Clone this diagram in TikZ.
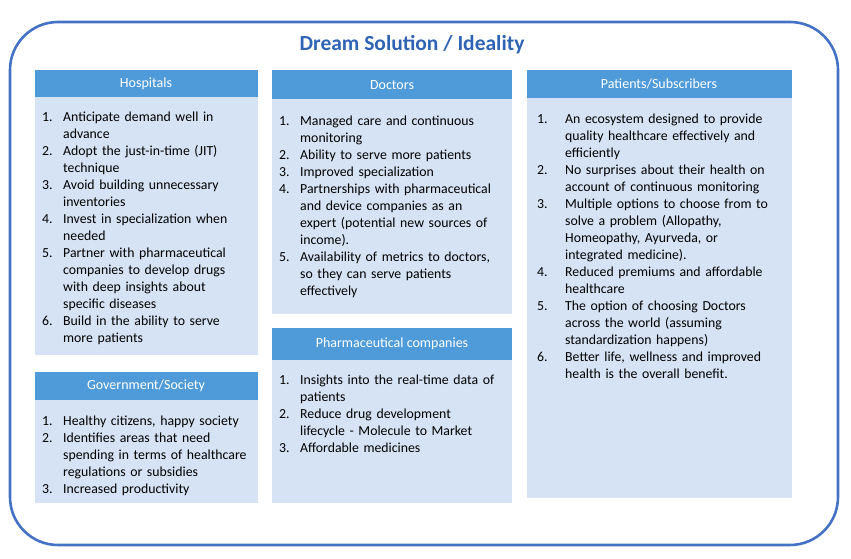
\documentclass[tikz,border=0pt]{standalone}
\usepackage{fontspec}
\setmainfont{Carlito}
\definecolor{hdr}{HTML}{4F9BD9}
\definecolor{bdy}{HTML}{D6E3F4}
\definecolor{outer}{HTML}{4472C4}
\definecolor{ttl}{HTML}{2F64B5}
\newcommand{\itm}[3]{\par\hangindent=#1\hangafter=1\noindent\makebox[#1][l]{#2}#3\par}
\newcommand{\nl}{\newline}
\begin{document}
\begin{tikzpicture}[x=1pt,y=-1pt,
  hdrbox/.style={fill=hdr,draw=none},
  bdybox/.style={fill=bdy,draw=none},
  hdrtxt/.style={text=white,font=\fontsize{14}{16}\selectfont},
  lst/.style={anchor=north west,inner sep=0pt,font=\fontsize{13.8}{17}\selectfont}]
\useasboundingbox (0,0) rectangle (851,559);
\draw[outer,line width=2.6pt,rounded corners=48pt] (10,22) rectangle (838,545);
\node (title) at (412,45) {\fontsize{21.5}{24}\selectfont\bfseries\color{ttl}Dream Solution / Ideality};
% Hospitals
\fill[bdybox] (35,97) rectangle (258,355);
\fill[hdrbox] (35,70) rectangle (258,97);
\node[hdrtxt] (hosp) at (146,84) {Hospitals};
\node[lst,text width=222pt] (hospl) at (42,104) {\raggedright
\itm{21pt}{1.}{Anticipate demand well in\nl advance}
\itm{21pt}{2.}{Adopt the just-in-time (JIT)\nl technique}
\itm{21pt}{3.}{Avoid building unnecessary\nl inventories}
\itm{21pt}{4.}{Invest in specialization when\nl needed}
\itm{21pt}{5.}{Partner with pharmaceutical\nl companies to develop drugs\nl with deep insights about\nl specific diseases}
\itm{21pt}{6.}{Build in the ability to serve\nl more patients}};
% Government
\fill[bdybox] (35,400) rectangle (258,503);
\fill[hdrbox] (35,372) rectangle (258,400);
\node[hdrtxt] (gov) at (146,386) {Government/Society};
\node[lst,text width=222pt] (govl) at (42,408) {\raggedright
\itm{21pt}{1.}{Healthy citizens, happy society}
\itm{21pt}{2.}{Identifies areas that need\nl spending in terms of healthcare\nl regulations or subsidies}
\itm{21pt}{3.}{Increased productivity}};
% Doctors
\fill[bdybox] (272,99) rectangle (512,314);
\fill[hdrbox] (272,70) rectangle (512,99);
\node[hdrtxt] (doc) at (392,85) {Doctors};
\node[lst,text width=240pt] (docl) at (279,108) {\raggedright
\itm{21pt}{1.}{Managed care and continuous\nl monitoring}
\itm{21pt}{2.}{Ability to serve more patients}
\itm{21pt}{3.}{Improved specialization}
\itm{21pt}{4.}{Partnerships with pharmaceutical\nl and device companies as an\nl expert (potential new sources of\nl income).}
\itm{21pt}{5.}{Availability of metrics to doctors,\nl so they can serve patients\nl effectively}};
% Pharma
\fill[bdybox] (272,360) rectangle (512,503);
\fill[hdrbox] (272,328) rectangle (512,360);
\node[hdrtxt] (pharm) at (392,344) {Pharmaceutical companies};
\node[lst,text width=240pt] (pharml) at (279,367) {\raggedright
\itm{21pt}{1.}{Insights into the real-time data of\nl patients}
\itm{21pt}{2.}{Reduce drug development\nl lifecycle - Molecule to Market}
\itm{21pt}{3.}{Affordable medicines}};
% Patients
\fill[bdybox] (527,98) rectangle (792,498);
\fill[hdrbox] (527,70) rectangle (792,98);
\node[hdrtxt] (pat) at (659,84) {Patients/Subscribers};
\node[lst,text width=262pt] (patl) at (537,106) {\raggedright
\itm{28pt}{1.}{An ecosystem designed to provide\nl quality healthcare effectively and\nl efficiently}
\itm{28pt}{2.}{No surprises about their health on\nl account of continuous monitoring}
\itm{28pt}{3.}{Multiple options to choose from to\nl solve a problem (Allopathy,\nl Homeopathy, Ayurveda, or\nl integrated medicine).}
\itm{28pt}{4.}{Reduced premiums and affordable\nl healthcare}
\itm{28pt}{5.}{The option of choosing Doctors\nl across the world (assuming\nl standardization happens)}
\itm{28pt}{6.}{Better life, wellness and improved\nl health is the overall benefit.}};
\end{tikzpicture}
\end{document}
